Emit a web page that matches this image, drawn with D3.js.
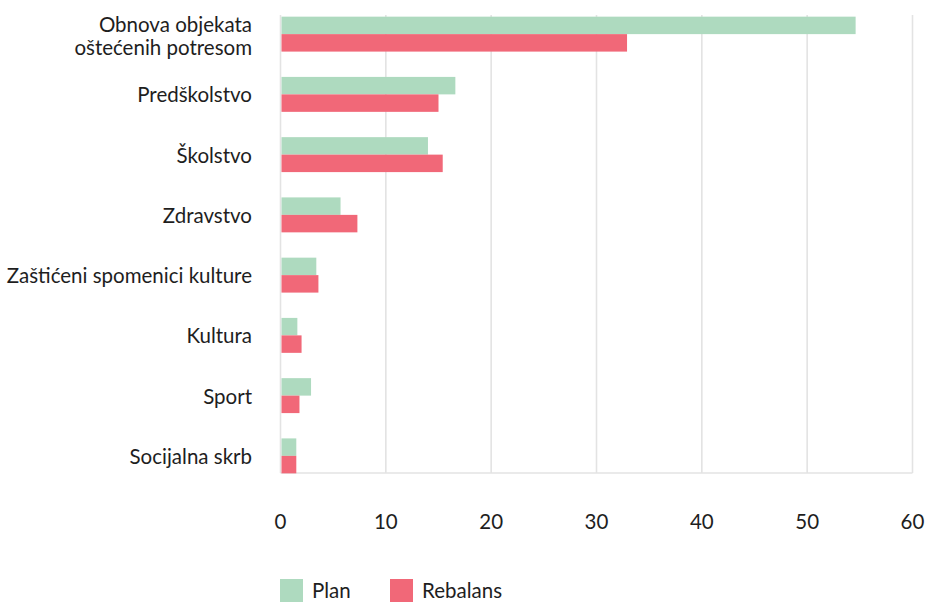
<!DOCTYPE html>
<html>
<head>
<meta charset="utf-8">
<script src="https://cdn.jsdelivr.net/npm/d3@7"></script>
<style>
  body { margin: 0; background: #fff; }
  text { font-family: Lato, "Noto Sans", sans-serif; fill: #1e1e1e; }
</style>
</head>
<body>
<svg id="chart" width="926" height="602"></svg>
<script>
// data
const categories = [
  ["Obnova objekata", "oštećenih potresom"],
  ["Predškolstvo"],
  ["Školstvo"],
  ["Zdravstvo"],
  ["Zaštićeni spomenici kulture"],
  ["Kultura"],
  ["Sport"],
  ["Socijalna skrb"]
];
const planValues = [54.6, 16.6, 14.0, 5.7, 3.4, 1.6, 2.9, 1.5];
const rebalansValues = [32.9, 15.0, 15.4, 7.3, 3.6, 2.0, 1.8, 1.5];
const seriesNames = ["Plan", "Rebalans"];
const xTicks = [0, 10, 20, 30, 40, 50, 60];

const colours = ["#aedabf", "#f16878"];

const svg = d3.select("#chart");

const keys = categories.map((c, i) => i);

const x = d3.scaleLinear().domain([0, 60]).range([280.5, 912.5]);
const y = d3.scaleBand().domain(keys).range([4, 486])
  .paddingInner(0.42).paddingOuter(0.21);
const ySub = d3.scaleBand().domain(seriesNames).range([0, y.bandwidth()]);

const plotTop = 15, plotBottom = 473;

// gridlines
svg.append("g")
  .selectAll("line")
  .data(xTicks)
  .enter()
  .append("line")
  .attr("x1", d => x(d))
  .attr("x2", d => x(d))
  .attr("y1", plotTop)
  .attr("y2", plotBottom)
  .attr("stroke", "#e3e3e3")
  .attr("stroke-width", 1.6);

// bottom axis line
svg.append("line")
  .attr("x1", x(0))
  .attr("x2", x(60))
  .attr("y1", plotBottom)
  .attr("y2", plotBottom)
  .attr("stroke", "#e3e3e3")
  .attr("stroke-width", 1.6);

// bars
const series = [planValues, rebalansValues];
series.forEach((vals, s) => {
  svg.append("g")
    .selectAll("rect")
    .data(vals)
    .enter()
    .append("rect")
    .attr("x", x(0) + 1)
    .attr("y", (d, i) => y(i) + ySub(seriesNames[s]))
    .attr("width", d => x(d) - x(0) - 1)
    .attr("height", ySub.bandwidth())
    .attr("fill", colours[s]);
});

// x tick labels
svg.append("g")
  .selectAll("text")
  .data(xTicks)
  .enter()
  .append("text")
  .attr("x", d => x(d))
  .attr("y", 529)
  .attr("text-anchor", "middle")
  .style("font-size", "20.5px")
  .text(d => d);

// category labels
const labels = svg.append("g")
  .selectAll("text")
  .data(categories)
  .enter()
  .append("text")
  .attr("text-anchor", "end")
  .style("font-size", "20.5px")
  .attr("transform", (d, i) => {
    const cy = y(i) + y.bandwidth() / 2;
    return "translate(252," + (cy + 8 - (d.length - 1) * 10) + ")";
  });
labels.selectAll("tspan")
  .data(d => d)
  .enter()
  .append("tspan")
  .attr("x", 0)
  .attr("dy", (d, i) => (i === 0 ? 0 : 22.5))
  .text(d => d);

// legend
const legend = svg.append("g").attr("transform", "translate(280,579)");
const legendX = [0, 110];
seriesNames.forEach((name, i) => {
  legend.append("rect")
    .attr("x", legendX[i])
    .attr("y", 0)
    .attr("width", 23)
    .attr("height", 23)
    .attr("fill", colours[i]);
  legend.append("text")
    .attr("x", legendX[i] + 32)
    .attr("y", 19)
    .style("font-size", "20.5px")
    .text(name);
});
</script>
</body>
</html>
